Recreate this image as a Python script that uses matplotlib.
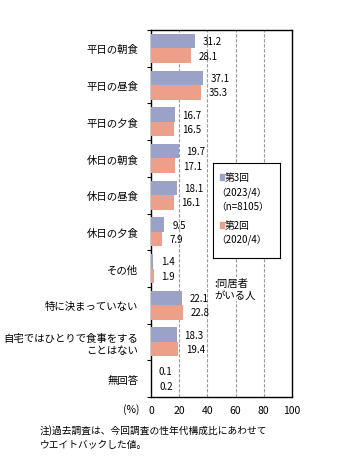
import matplotlib
matplotlib.use("Agg")
import matplotlib.pyplot as plt
import numpy as np
from matplotlib.ticker import FixedLocator

plt.rcParams['font.family'] = ['Noto Sans CJK JP', 'DejaVu Sans']

categories = ["平日の朝食", "平日の昼食", "平日の夕食", "休日の朝食", "休日の昼食",
              "休日の夕食", "その他", "特に決まっていない",
              "自宅ではひとりで食事をする\nことはない", "無回答"]
survey3 = [31.2, 37.1, 16.7, 19.7, 18.1, 9.5, 1.4, 22.1, 18.3, 0.1]
survey2 = [28.1, 35.3, 16.5, 17.1, 16.1, 7.9, 1.9, 22.8, 19.4, 0.2]
legend_labels = ["第3回\n（2023/4）\n（n=8105）", "第2回\n（2020/4）"]
xticks = [0, 20, 40, 60, 80, 100]

c3 = "#9AA2C7"
c2 = "#EC9F89"

fig = plt.figure(figsize=(3.42, 4.64), dpi=100)
ax = fig.add_axes([151/342, 1 - 398/464, (292-151)/342, (398-31)/464])

n = len(categories)
y = np.arange(n)
h = 0.395
ax.barh(y - h/2, survey3, height=h, color=c3, zorder=3)
ax.barh(y + h/2, survey2, height=h, color=c2, zorder=3)

fs = 7
for i in range(n):
    ax.text(survey3[i] + 5.5, y[i] - h/2, f"{survey3[i]:.1f}", va="center", ha="left", fontsize=fs, zorder=4)
    ax.text(survey2[i] + 5.5, y[i] + h/2, f"{survey2[i]:.1f}", va="center", ha="left", fontsize=fs, zorder=4)

ax.set_xlim(0, 100)
ax.set_ylim(n - 0.5, -0.5)
ax.set_xticks(xticks)
ax.set_xticklabels([str(t) for t in xticks], fontsize=fs + 0.5)
ax.tick_params(axis="x", length=0, pad=6)
ax.set_yticks(y)
ax.set_yticklabels(categories, fontsize=fs + 0.5, ha="right")
ax.tick_params(axis="y", which="major", length=0, pad=9)
ax.yaxis.set_minor_locator(FixedLocator(np.arange(-0.5, n, 1.0)))
ax.tick_params(axis="y", which="minor", length=3, direction="out", width=0.8)
for xv in [20, 40, 60, 80]:
    ax.axvline(xv, color="#999999", lw=0.8, ls=(0, (3, 1.5)), zorder=1)
for s in ax.spines.values():
    s.set_linewidth(1.0)
    s.set_color("black")

fig.text(140/342, 1 - 410/464, "(%)", fontsize=fs + 0.5, ha="right", va="center")

# legend box
lx0, ly0, lx1, ly1 = 213, 164, 280, 259
lax = fig.add_axes([lx0/342, 1 - ly1/464, (lx1-lx0)/342, (ly1-ly0)/464])
lax.set_xlim(lx0, lx1)
lax.set_ylim(ly1, ly0)
lax.set_xticks([]); lax.set_yticks([])
lax.set_facecolor("white")
for s in lax.spines.values():
    s.set_linewidth(0.8)
lines3 = legend_labels[0].split("\n")
lines2 = legend_labels[1].split("\n")
lax.add_patch(plt.Rectangle((220, 175), 4, 6, color=c3))
lax.text(225, 178, lines3[0], fontsize=fs, va="center", ha="left")
lax.text(216, 193, lines3[1], fontsize=fs, va="center", ha="left")
lax.text(216, 207, lines3[2], fontsize=fs, va="center", ha="left")
lax.add_patch(plt.Rectangle((220, 223), 4, 6, color=c2))
lax.text(225, 226, lines2[0], fontsize=fs, va="center", ha="left")
lax.text(216, 240, lines2[1], fontsize=fs, va="center", ha="left")

fig.text(214/342, 1 - 290/464, ":同居者\nがいる人", fontsize=fs + 0.5, ha="left", va="center",
         linespacing=1.2, bbox=dict(facecolor="white", edgecolor="none", pad=0.5))

fig.text(40/342, 1 - 438/464, "注)過去調査は、今回調査の性年代構成比にあわせて\nウエイトバックした値。",
         fontsize=fs, ha="left", va="center", linespacing=1.5)

fig.savefig("out.png", dpi=100)
